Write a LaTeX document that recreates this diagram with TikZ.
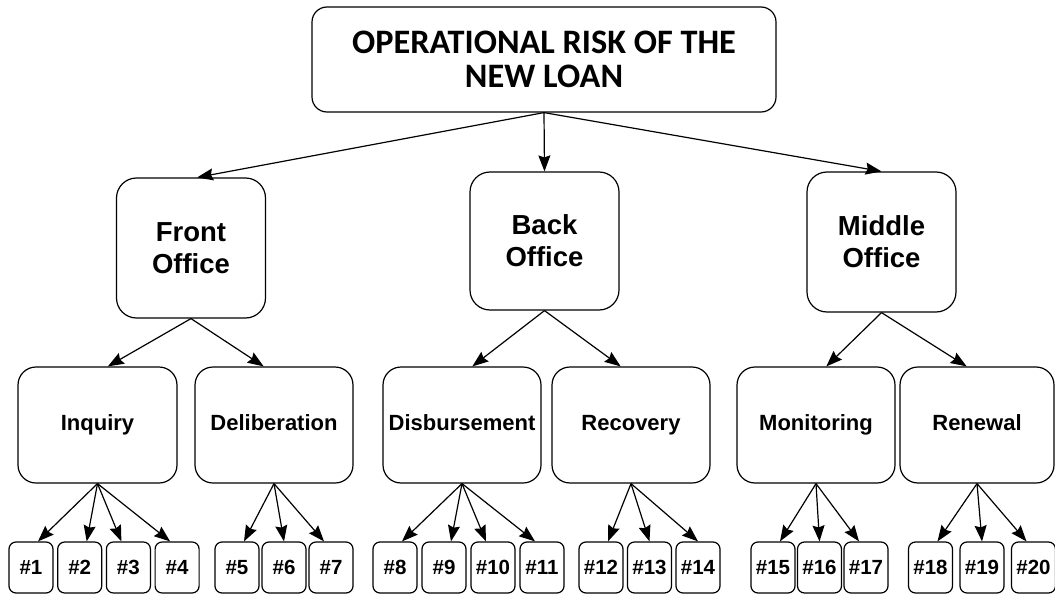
\documentclass[tikz,border=0pt]{standalone}
\usepackage{fontspec}
\setmainfont{Liberation Sans}
\newfontfamily\calibri{Carlito}
\usepackage{tikz}
\usetikzlibrary{positioning,arrows.meta}
\tikzstyle{rootbox} = [draw, line width=1.2pt, rounded corners=15pt,
    minimum width=464pt, minimum height=105pt, align=center,
    font=\calibri\bfseries\fontsize{34.3}{34.5}\selectfont]
\tikzstyle{officebox} = [draw, line width=1.2pt, rounded corners=20pt,
    minimum width=149pt, minimum height=139pt, align=center,
    font=\bfseries\fontsize{27.5}{32}\selectfont]
\tikzstyle{stagebox} = [draw, line width=1.2pt, rounded corners=18pt,
    minimum width=158pt, minimum height=116pt, inner sep=1pt,
    text height=16pt, text depth=5pt,
    font=\bfseries\fontsize{22}{26}\selectfont]
\tikzstyle{itembox} = [draw, line width=1.2pt, rounded corners=7pt,
    minimum width=44pt, minimum height=51pt, inner sep=1pt,
    font=\bfseries\fontsize{20.5}{24}\selectfont]
\tikzstyle{link} = [line width=1.2pt, -{Stealth[length=16pt,width=12pt,inset=2pt]}]

\begin{document}
\begin{tikzpicture}[x=1pt, y=1pt]
\useasboundingbox (0,0) rectangle (1055,-594);
% Nodes
	\node [rootbox] (risk) at (544,-59.5) {OPERATIONAL RISK OF THE\\NEW LOAN};
	\node [officebox, minimum height=140pt] (front) at (191,-248) {Front\\Office};
	\node [officebox, minimum height=138pt] (back) at (544.5,-241) {Back\\Office};
	\node [officebox, minimum height=140pt] (middle) at (881.5,-242) {Middle\\Office};
	\node [stagebox, minimum width=159pt] (inquiry) at (97.5,-425) {Inquiry};
	\node [stagebox] (deliberation) at (274,-425) {Deliberation};
	\node [stagebox] (disbursement) at (462,-425) {Disbursement};
	\node [stagebox] (recovery) at (631,-425) {Recovery};
	\node [stagebox] (monitoring) at (816,-425) {Monitoring};
	\node [stagebox, minimum width=154pt] (renewal) at (977,-425) {Renewal};
% Leaves
	\node [itembox] (i1) at (31,-567.5) {\#1};
	\node [itembox, right of=i1, node distance = 48.7pt] (i2) {\#2};
	\node [itembox, right of=i2, node distance = 48.7pt] (i3) {\#3};
	\node [itembox, right of=i3, node distance = 48.7pt] (i4) {\#4};
	\node [itembox] (i5) at (237,-567.5) {\#5};
	\node [itembox, right of=i5, node distance = 47pt] (i6) {\#6};
	\node [itembox, right of=i6, node distance = 47pt] (i7) {\#7};
	\node [itembox] (i8) at (395,-567.5) {\#8};
	\node [itembox, right of=i8, node distance = 49pt] (i9) {\#9};
	\node [itembox, right of=i9, node distance = 49pt] (i10) {\#10};
	\node [itembox, right of=i10, node distance = 49pt] (i11) {\#11};
	\node [itembox] (i12) at (601,-567.5) {\#12};
	\node [itembox, right of=i12, node distance = 48.5pt] (i13) {\#13};
	\node [itembox, right of=i13, node distance = 48.5pt] (i14) {\#14};
	\node [itembox] (i15) at (773,-567.5) {\#15};
	\node [itembox, right of=i15, node distance = 46.5pt] (i16) {\#16};
	\node [itembox, right of=i16, node distance = 46.5pt] (i17) {\#17};
	\node [itembox] (i18) at (930.5,-567.5) {\#18};
	\node [itembox, right of=i18, node distance = 51.5pt] (i19) {\#19};
	\node [itembox, right of=i19, node distance = 51.5pt] (i20) {\#20};
% Connections
	\draw [link] (risk.south) -- (front.85);
	\draw [link] (risk.south) -- (back.north);
	\draw [link] (risk.south) -- (middle.north);
	\draw [link] (front.south) -- (inquiry.80);
	\draw [link] (front.south) -- (deliberation.100);
	\draw [link] (back.south) -- (disbursement.80);
	\draw [link] (back.south) -- (recovery.100);
	\draw [link] (middle.south) -- (monitoring.80);
	\draw [link] (middle.south) -- (renewal.100);
	\draw [link] (inquiry.south) -- (i1.75);
	\draw [link] (inquiry.south) -- (i2.75);
	\draw [link] (inquiry.south) -- (i3.105);
	\draw [link] (inquiry.south) -- (i4.105);
	\draw [link] (deliberation.south) -- (i5.75);
	\draw [link] (deliberation.south) -- (i6.north);
	\draw [link] (deliberation.south) -- (i7.105);
	\draw [link] (disbursement.south) -- (i8.75);
	\draw [link] (disbursement.south) -- (i9.75);
	\draw [link] (disbursement.south) -- (i10.105);
	\draw [link] (disbursement.south) -- (i11.105);
	\draw [link] (recovery.south) -- (i12.75);
	\draw [link] (recovery.south) -- (i13.north);
	\draw [link] (recovery.south) -- (i14.north);
	\draw [link] (monitoring.south) -- (i15.75);
	\draw [link] (monitoring.south) -- (i16.north);
	\draw [link] (monitoring.south) -- (i17.105);
	\draw [link] (renewal.south) -- (i18.75);
	\draw [link] (renewal.south) -- (i19.north);
	\draw [link] (renewal.south) -- (i20.105);
\end{tikzpicture}
\end{document}
